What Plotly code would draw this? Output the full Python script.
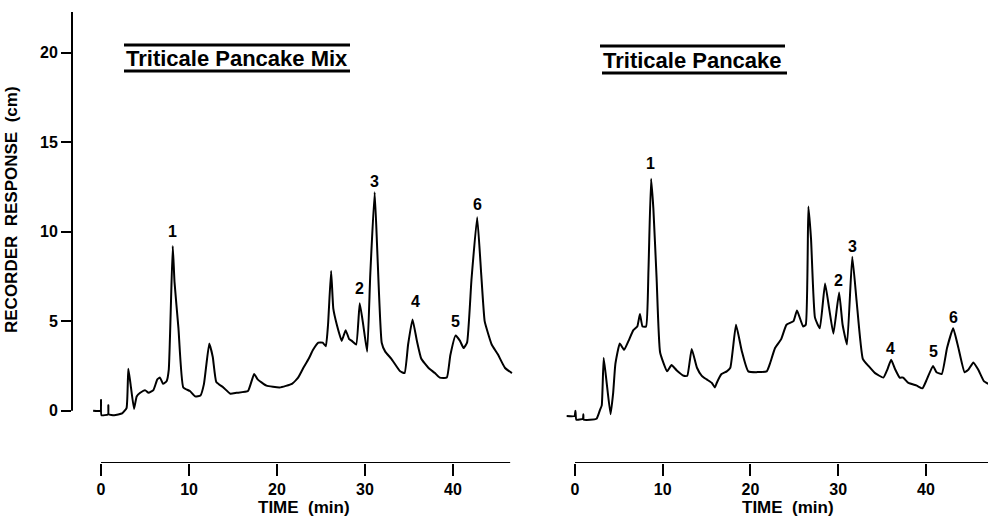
import plotly.graph_objects as go

W, H = 988, 516

# ---------------- data ----------------
mix_time = [-0.9, -0.05, 0.0, 0.05, 0.8, 0.83, 0.87, 1.5, 2.4, 2.9, 3.1, 3.35, 3.75, 4.05, 4.45,
            5.0, 5.4, 5.95, 6.4, 6.7, 7.05, 7.45, 7.7, 8.15, 8.35, 8.8, 9.35, 10.1, 10.7, 11.3,
            11.7, 12.3, 12.7, 13.1, 13.9, 14.7, 15.4, 16.7, 17.4, 17.8, 18.8, 20.3, 21.7, 22.4,
            23.0, 23.6, 24.1, 24.7, 25.2, 25.55, 25.8, 26.15, 26.4, 26.8, 27.35, 27.8, 28.2,
            28.5, 29.0, 29.4, 29.8, 30.25, 30.6, 31.1, 31.4, 31.9, 32.3, 33.0, 34.0, 34.5, 34.9,
            35.4, 35.9, 36.4, 37.2, 37.95, 38.5, 39.3, 39.7, 40.3, 40.8, 41.2, 41.6, 42.1, 42.75,
            43.2, 43.6, 44.0, 44.4, 45.1, 45.9, 46.7]
mix_resp = [0.0, 0.0, 0.6, -0.25, -0.2, 0.3, -0.2, -0.25, -0.15, 0.15, 2.35, 1.5, 0.1, 0.8, 1.0,
            1.15, 1.0, 1.15, 1.75, 1.85, 1.5, 1.65, 2.3, 9.2, 7.2, 4.6, 1.3, 1.1, 0.8, 0.85,
            1.5, 3.75, 3.0, 1.6, 1.3, 0.95, 1.0, 1.1, 2.05, 1.75, 1.4, 1.3, 1.5, 1.85,
            2.4, 2.9, 3.4, 3.8, 3.8, 3.6, 4.8, 7.8, 5.7, 4.8, 3.9, 4.5, 4.0,
            3.9, 3.7, 6.0, 4.8, 3.3, 7.6, 12.2, 8.9, 3.8, 3.3, 2.9, 2.2, 2.1, 3.7,
            5.1, 3.9, 2.9, 2.4, 2.1, 1.85, 1.85, 3.1, 4.2, 3.9, 3.5, 3.8, 7.3, 10.8,
            7.7, 5.0, 4.3, 3.7, 3.15, 2.4, 2.1]

cake_time = [-0.95, -0.05, 0.05, 0.15, 0.9, 0.95, 1.0, 2.45, 2.85, 3.05, 3.27, 3.6, 4.05, 4.35,
             4.6, 5.1, 5.6, 6.1, 6.65, 7.1, 7.4, 7.7, 8.1, 8.37, 8.67, 8.93, 9.3, 9.7, 10.5,
             11.0, 11.6, 12.4, 12.8, 13.3, 13.9, 14.45, 15.0, 15.6, 15.95, 16.15, 16.7, 17.3,
             17.7, 18.35, 19.0, 19.75, 21.85, 22.2, 22.8, 23.5, 24.1, 24.9, 25.3, 26.0, 26.3,
             26.6, 26.9, 27.35, 27.9, 28.5, 29.0, 29.45, 30.1, 30.5, 31.0, 31.6, 32.1, 32.8,
             33.45, 34.2, 35.15, 35.6, 36.03, 36.5, 37.0, 37.4, 38.0, 38.95, 39.6, 40.1, 40.8,
             41.2, 41.8, 42.4, 43.1, 43.7, 44.4, 44.85, 45.4, 45.95, 46.6, 47.1]
cake_resp = [-0.3, -0.3, 0.0, -0.5, -0.45, -0.2, -0.5, -0.45, 0.05, 0.3, 2.95, 1.6, -0.2, 1.0,
             2.6, 3.75, 3.4, 3.9, 4.5, 4.7, 5.4, 4.7, 4.7, 7.8, 12.95, 11.3, 7.4, 3.25, 2.2,
             2.55, 2.25, 1.95, 1.95, 3.45, 2.4, 1.95, 1.75, 1.55, 1.3, 1.55, 2.05, 2.2,
             2.4, 4.8, 3.35, 2.2, 2.2, 2.6, 3.5, 4.0, 4.8, 5.0, 5.6, 4.7, 4.8,
             11.4, 9.6, 5.2, 4.6, 7.1, 5.6, 4.3, 6.6, 4.8, 3.7, 8.6, 6.1, 2.9,
             2.5, 2.1, 1.85, 2.3, 2.85, 2.3, 1.85, 1.85, 1.55, 1.4, 1.25, 1.75, 2.5,
             2.15, 2.05, 3.5, 4.6, 3.5, 2.15, 2.3, 2.7, 2.3, 1.65, 1.5]

peak_labels = ["1", "2", "3", "4", "5", "6"]
mix_label_time = [8.1, 29.4, 31.1, 35.7, 40.3, 42.8]
mix_label_resp = [10.0, 6.8, 12.8, 6.1, 5.0, 11.5]
cake_label_time = [8.55, 30.07, 31.6, 36.0, 40.9, 43.1]
cake_label_resp = [13.8, 7.3, 9.2, 3.5, 3.3, 5.2]

x_ticks = [0, 10, 20, 30, 40]
y_ticks = [0, 5, 10, 15, 20]

titles = ["Triticale Pancake Mix", "Triticale Pancake"]
x_title = "TIME  (min)"
y_title = "RECORDER  RESPONSE  (cm)"

# ---------------- figure ----------------
FONT = "Liberation Sans"
ink = "black"

def px(x):
    return x / W

def py(y):
    return (H - y) / H

fig = go.Figure()
fig.add_trace(go.Scatter(x=mix_time, y=mix_resp, mode="lines", xaxis="x", yaxis="y",
                         line=dict(color=ink, width=2, shape="spline", smoothing=0.4),
                         showlegend=False, hoverinfo="skip"))
fig.add_trace(go.Scatter(x=cake_time, y=cake_resp, mode="lines", xaxis="x2", yaxis="y2",
                         line=dict(color=ink, width=2, shape="spline", smoothing=0.4),
                         showlegend=False, hoverinfo="skip"))

yr = [-2.92, 22.27]
ydom = [(H - 463) / H, (H - 12) / H]
tickfont = dict(family=FONT, size=16, color=ink, weight="bold")

xcommon = dict(showline=False, showgrid=False, zeroline=False, ticks="outside", ticklen=12,
               tickwidth=2, tickcolor=ink, tickvals=x_ticks, tickfont=tickfont)
fig.update_layout(
    width=W, height=H, margin=dict(l=0, r=0, t=0, b=0),
    paper_bgcolor="white", plot_bgcolor="white",
    xaxis=dict(domain=[px(72), px(515)], range=[-3.3, 47.05], anchor="y", **xcommon),
    xaxis2=dict(domain=[px(560), 1.0], range=[-1.71, 47.07], anchor="y2", **xcommon),
    yaxis=dict(domain=ydom, range=yr, anchor="x", showline=False, showgrid=False,
               zeroline=False, ticks="outside", ticklen=10, tickwidth=2, tickcolor=ink,
               tickvals=y_ticks, tickfont=tickfont, ticklabelstandoff=0),
    yaxis2=dict(domain=ydom, range=yr, anchor="x2", visible=False),
)

shapes = []
# y-axis line (from 0 upward)
shapes.append(dict(type="line", xref="x domain", yref="y", x0=0, x1=0, y0=0, y1=yr[1],
                   line=dict(color=ink, width=2)))
# x-axis lines (start at t=0)
shapes.append(dict(type="line", xref="x", yref="y", x0=0, x1=46.5, y0=yr[0], y1=yr[0],
                   line=dict(color=ink, width=2)))
shapes.append(dict(type="line", xref="x2", yref="y2", x0=0, x1=47.07, y0=yr[0], y1=yr[0],
                   line=dict(color=ink, width=2)))
# title over/under lines
for (x0, x1, yy) in [(124, 350, 45), (124, 350, 71), (600, 785, 46), (602, 787, 73)]:
    shapes.append(dict(type="line", xref="paper", yref="paper", x0=px(x0), x1=px(x1),
                       y0=py(yy), y1=py(yy), line=dict(color=ink, width=3)))
fig.update_layout(shapes=shapes)

ann = []
titlefont = dict(family=FONT, size=22, color=ink, weight="bold")
ann.append(dict(text=titles[0], x=px(237), y=py(59), xref="paper", yref="paper",
                showarrow=False, font=titlefont, xanchor="center", yanchor="middle"))
ann.append(dict(text=titles[1], x=px(692.5), y=py(61), xref="paper", yref="paper",
                showarrow=False, font=titlefont, xanchor="center", yanchor="middle"))
labfont = dict(family=FONT, size=16, color=ink, weight="bold")
axfont = dict(family=FONT, size=17, color=ink, weight="bold")
ann.append(dict(text=y_title, x=px(12), y=py(210), xref="paper", yref="paper", textangle=-90,
                showarrow=False, font=axfont, xanchor="center", yanchor="middle"))
ann.append(dict(text=x_title, x=23.1, y=py(507), xref="x", yref="paper",
                showarrow=False, font=axfont, xanchor="center", yanchor="middle"))
ann.append(dict(text=x_title, x=24.3, y=py(507), xref="x2", yref="paper",
                showarrow=False, font=axfont, xanchor="center", yanchor="middle"))
for lab, t, v in zip(peak_labels, mix_label_time, mix_label_resp):
    ann.append(dict(text=lab, x=t, y=v, xref="x", yref="y", showarrow=False, font=labfont,
                    xanchor="center", yanchor="middle"))
for lab, t, v in zip(peak_labels, cake_label_time, cake_label_resp):
    ann.append(dict(text=lab, x=t, y=v, xref="x2", yref="y2", showarrow=False, font=labfont,
                    xanchor="center", yanchor="middle"))
fig.update_layout(annotations=ann)

fig.write_html("out.html")
